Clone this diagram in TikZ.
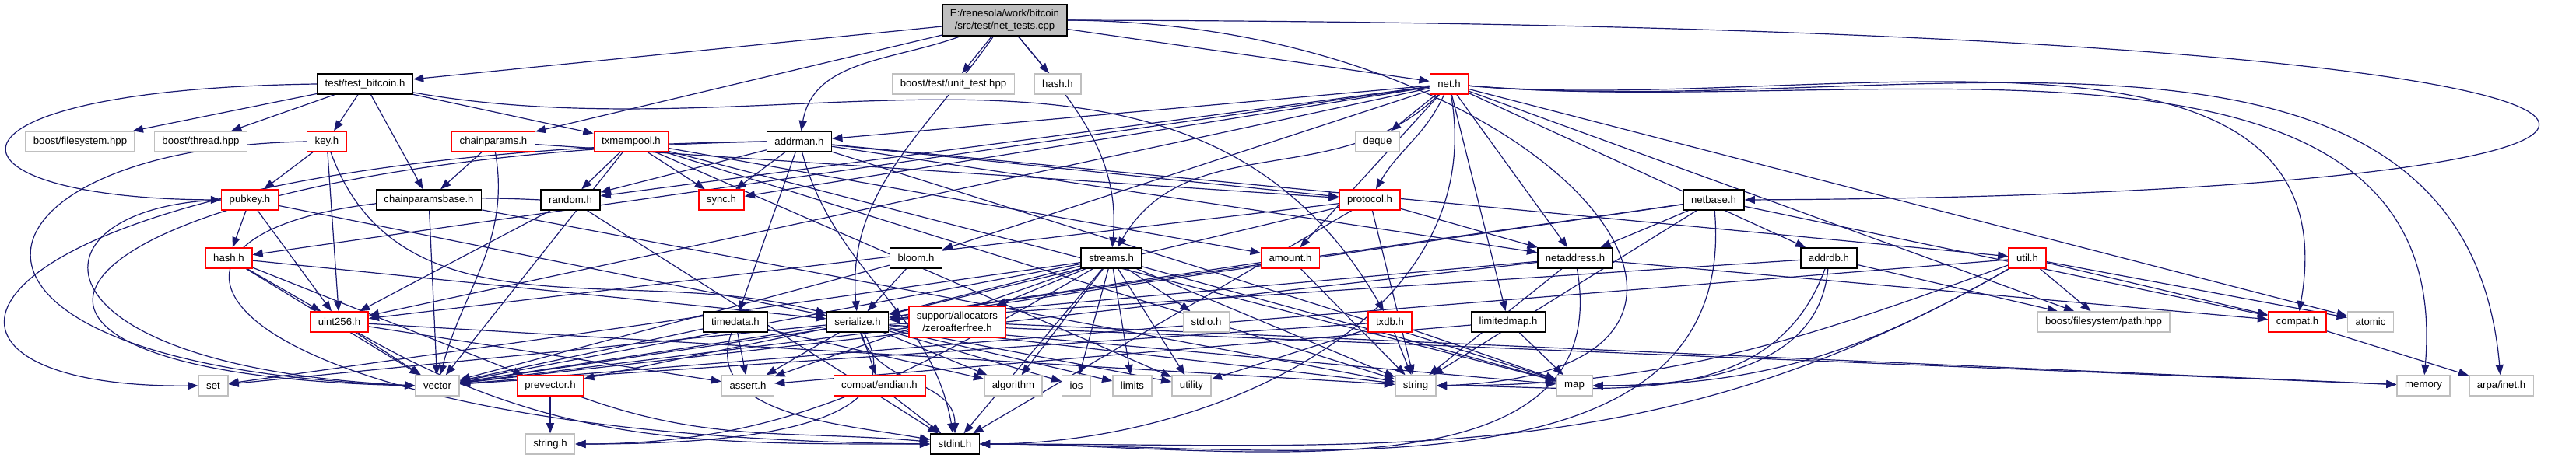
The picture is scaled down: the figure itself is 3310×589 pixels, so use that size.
\documentclass[tikz,border=0pt]{standalone}
\usepackage{fontspec}
\setmainfont{Liberation Sans}
\usetikzlibrary{arrows.meta,backgrounds}
\definecolor{edgecol}{HTML}{191970}
\definecolor{grey75}{HTML}{BFBFBF}
% one unit = one pixel of the doxygen image, drawn at a quarter of a point
\tikzset{
  hdr/.style={draw=black,line width=0.35pt,fill=white,inner xsep=2.5pt,inner ysep=0pt,
    minimum height=6.5pt,font=\fontsize{3.3}{3.9}\selectfont},   % documented header
  trunc/.style={hdr,draw=red},                                   % header with hidden includes
  sys/.style={hdr,draw=grey75},                                  % system / undocumented
  root/.style={hdr,fill=grey75,align=center,minimum height=10pt},
  inc/.style={-{Triangle[length=3.3pt,width=2.5pt]},edgecol,line width=0.3pt},
}

\begin{document}
\begin{tikzpicture}[x=0.25pt,y=0.25pt]
  \useasboundingbox (0,0) rectangle (3310,-589);
  % level 0/1
  \node[root]  (main)    at (1291,-26)  {E:/renesola/work/bitcoin\\/src/test/net\_tests.cpp};
  \node[hdr]   (tb)      at (469,-108)  {test/test\_bitcoin.h};
  \node[sys]   (ut)      at (1225,-108) {boost/test/unit\_test.hpp};
  \node[sys]   (hashtop) at (1359,-108) {hash.h};
  \node[trunc] (net)     at (1862,-108) {net.h};
  % level 2
  \node[sys]   (bfs)     at (103,-182)  {boost/filesystem.hpp};
  \node[sys]   (bth)     at (258,-182)  {boost/thread.hpp};
  \node[trunc] (key)     at (420,-182)  {key.h};
  \node[trunc] (cparams) at (634,-182)  {chainparams.h};
  \node[trunc] (txmem)   at (811,-182)  {txmempool.h};
  \node[hdr]   (addrman) at (1027,-182) {addrman.h};
  \node[sys]   (deque)   at (1770,-182) {deque};
  % level 3
  \node[trunc] (pubkey)  at (321,-257)  {pubkey.h};
  \node[hdr]   (cpbase)  at (551,-257)  {chainparamsbase.h};
  \node[hdr]   (random)  at (733,-257)  {random.h};
  \node[trunc] (sync)    at (927,-257)  {sync.h};
  \node[trunc] (protocol) at (1760,-257) {protocol.h};
  \node[hdr]   (netbase) at (2202,-257) {netbase.h};
  % level 4
  \node[trunc] (hash)    at (294,-332)  {hash.h};
  \node[hdr]   (bloom)   at (1177,-332) {bloom.h};
  \node[hdr]   (streams) at (1428,-332) {streams.h};
  \node[trunc] (amount)  at (1658,-332) {amount.h};
  \node[hdr]   (netaddr) at (2024,-332) {netaddress.h};
  \node[hdr]   (addrdb)  at (2350,-332) {addrdb.h};
  \node[trunc] (util)    at (2605,-332) {util.h};
  % level 5
  \node[trunc] (uint256) at (436,-414)  {uint256.h};
  \node[hdr]   (timedata) at (945,-414) {timedata.h};
  \node[hdr]   (serialize) at (1102,-414) {serialize.h};
  \node[trunc,align=center,minimum height=10pt] (zaf) at (1230,-414) {support/allocators\\/zeroafterfree.h};
  \node[sys]   (stdio)   at (1550,-414) {stdio.h};
  \node[trunc] (txdb)    at (1786,-414) {txdb.h};
  \node[hdr]   (limmap)  at (1938,-414) {limitedmap.h};
  \node[sys]   (fspath)  at (2703,-414) {boost/filesystem/path.hpp};
  \node[trunc] (compat)  at (2952,-414) {compat.h};
  \node[sys]   (atomic)  at (3046,-414) {atomic};
  % level 6/7
  \node[sys]   (set)     at (274,-496)  {set};
  \node[sys]   (vector)  at (562,-496)  {vector};
  \node[trunc] (prevector) at (707,-496) {prevector.h};
  \node[sys]   (assert)  at (961,-496)  {assert.h};
  \node[trunc] (endian)  at (1130,-496) {compat/endian.h};
  \node[sys]   (algorithm) at (1302,-496) {algorithm};
  \node[sys]   (ios)     at (1383,-496) {ios};
  \node[sys]   (limits)  at (1455,-496) {limits};
  \node[sys]   (utility) at (1531,-496) {utility};
  \node[sys]   (string)  at (1819,-496) {string};
  \node[sys]   (map)     at (2023,-496) {map};
  \node[sys]   (memory)  at (3114,-496) {memory};
  \node[sys]   (arpa)    at (3214,-496) {arpa/inet.h};
  \node[sys]   (stringh) at (707,-571)  {string.h};
  \node[hdr]   (stdint)  at (1227,-571) {stdint.h};

  \begin{pgfonlayer}{background}
  % straight includes
  \foreach \s/\t in {main/tb,main/ut,main/hashtop,main/net,main/cparams,
      tb/bfs,tb/bth,tb/key,tb/cpbase,tb/txmem,key/pubkey,key/uint256,
      cparams/cpbase,cparams/protocol,txmem/random,txmem/sync,txmem/amount,
      txmem/vector,txmem/map,txmem/string,txmem/utility,
      addrman/random,addrman/sync,addrman/protocol,addrman/netaddr,addrman/util,
      addrman/timedata,addrman/map,
      net/deque,net/addrman,net/random,net/sync,net/bloom,net/amount,net/netaddr,
      net/limmap,net/addrdb,net/atomic,net/fspath,net/uint256,net/hash,
      pubkey/hash,pubkey/uint256,pubkey/serialize,cpbase/vector,cpbase/string,
      random/uint256,random/stdint,protocol/netaddr,protocol/serialize,
      protocol/uint256,protocol/stdint,protocol/string,
      netbase/netaddr,netbase/compat,netbase/serialize,netbase/string,netbase/vector,
      hash/uint256,hash/serialize,hash/vector,hash/prevector,
      bloom/serialize,bloom/vector,
      streams/zaf,streams/serialize,streams/algorithm,streams/assert,streams/ios,
      streams/limits,streams/stdio,streams/utility,streams/string,streams/map,
      streams/set,streams/vector,streams/stdint,
      amount/serialize,amount/string,
      netaddr/compat,netaddr/serialize,netaddr/string,netaddr/vector,
      addrdb/serialize,addrdb/fspath,util/compat,util/fspath,util/atomic,util/vector,
      uint256/vector,uint256/assert,uint256/string,
      timedata/assert,timedata/algorithm,timedata/vector,
      serialize/endian,serialize/algorithm,serialize/assert,serialize/ios,
      serialize/limits,serialize/utility,serialize/prevector,serialize/vector,
      serialize/set,serialize/map,serialize/string,serialize/memory,
      zaf/vector,zaf/memory,txdb/string,txdb/map,txdb/utility,txdb/vector,
      limmap/map,limmap/assert,endian/stdint,prevector/stringh,compat/arpa}
    \draw[inc] (\s) -- (\t);
  % bent includes
  \foreach \s/\t/\o/\i in {main/addrman/200/80,main/serialize/235/95,main/streams/-50/85,
      tb/txdb/-10/120,key/serialize/-70/165,cparams/vector/-80/75,
      addrman/stdint/-75/100,net/protocol/-115/60,net/streams/-135/60,
      net/stdint/-80/0,net/compat/-5/80,net/memory/-5/85,net/arpa/-5/95,
      netbase/stdint/-85/0,netaddr/stdint/-80/0,util/stdint/-150/0,
      util/string/-160/0,util/map/-150/0,addrdb/string/-110/0,addrdb/map/-95/0,
      uint256/stdint/-30/180,timedata/stdint/-110/170,serialize/stdint/-75/90,
      serialize/stringh/-60/0,streams/stringh/-150/0,prevector/stdint/-20/175}
    \draw[inc] (\s) to[out=\o,in=\i] (\t);
  % long loops round the outside
  \draw[inc] (main.east) .. controls (3720,-30) and (3720,-250) .. (netbase.east);
  \draw[inc] (main.east) .. controls (2000,-30) and (2350,-480) .. (string.east);
  \draw[inc] (tb.west) .. controls (-110,-115) and (-93,-255) .. (pubkey.west);
  \draw[inc] (key.west) .. controls (-60,-190) and (-140,-470) .. (vector.west);
  \draw[inc] (pubkey.west) .. controls (30,-265) and (20,-470) .. (vector.west);
  \draw[inc] (addrman.west) .. controls (-60,-195) and (-200,-500) .. (set.west);
  \draw[inc] (addrman.west) .. controls (60,-200) and (-170,-480) .. (vector.west);
  \draw[inc] (random.west) .. controls (60,-225) and (150,-560) .. (stdint.west);
  \end{pgfonlayer}
\end{tikzpicture}
\end{document}
